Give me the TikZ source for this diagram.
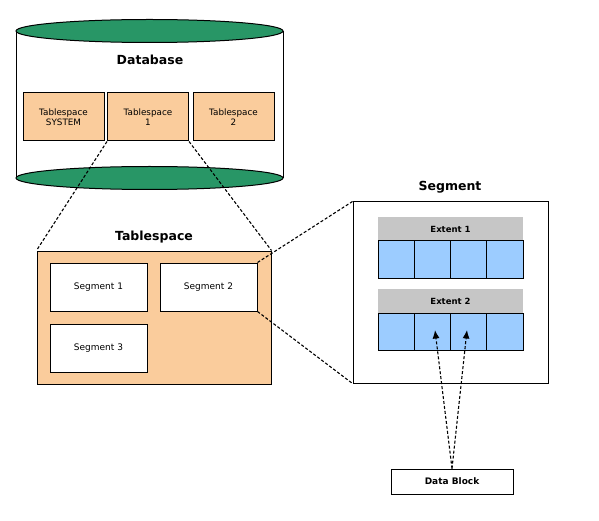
\documentclass[tikz,border=0pt]{standalone}
\usepackage{fontspec}
\setmainfont{DejaVu Sans}
\usetikzlibrary{positioning,arrows.meta}
\definecolor{dbgreen}{RGB}{40,150,102}
\definecolor{tspeach}{RGB}{250,204,156}
\definecolor{extgray}{RGB}{198,198,198}
\definecolor{blkblue}{RGB}{156,204,255}
\tikzset{
  tsbox/.style={draw, fill=tspeach, minimum width=81pt, minimum height=48pt,
    align=center, inner sep=1pt, font=\fontsize{8.8}{10.5}\selectfont},
  segbox/.style={draw, fill=white, minimum width=97pt, minimum height=48pt,
    font=\fontsize{9}{10}\selectfont},
  band/.style={fill=extgray, minimum width=145pt, minimum height=24pt,
    inner sep=0pt, font=\bfseries\fontsize{8.5}{9}\selectfont},
  cell/.style={draw, fill=blkblue, minimum width=36.25pt, minimum height=37pt,
    inner sep=0pt},
  title/.style={font=\bfseries\fontsize{12.5}{14}\selectfont},
  link/.style={dashed, dash pattern=on 3pt off 2pt, line width=1.1pt}
}
\begin{document}
\begin{tikzpicture}[>={Latex[length=8.5pt,width=7pt]}, x=1pt, y=-1pt, line width=1pt]
\useasboundingbox (0,0) rectangle (599,521);
% database cylinder
\fill[white] (16,31) rectangle (283,178);
\draw (16,31)--(16,178) (283,31)--(283,178);
\draw[fill=dbgreen] (149.5,31) ellipse [x radius=133.5pt, y radius=11.5pt];
\draw[fill=dbgreen] (149.5,178) ellipse [x radius=133.5pt, y radius=11.5pt];
\node[title] (db) at (150,60) {Database};
\node[tsbox] (tssys) at (63.5,117) {Tablespace\\SYSTEM};
\node[tsbox] (ts1) at (148,117) {Tablespace\\1};
\node[tsbox] (ts2) at (233.5,117) {Tablespace\\2};
% tablespace
\node[title] (tstitle) at (154,237) {Tablespace};
\node[draw, fill=tspeach, minimum width=234pt, minimum height=133pt] (tsbig) at (154,317.5) {};
\node[segbox] (seg1) at (98.5,287) {Segment 1};
\node[segbox] (seg2) at (208.5,287) {Segment 2};
\node[segbox] (seg3) at (98.5,348) {Segment 3};
\draw[link] (ts1.south west)--(tsbig.north west);
\draw[link] (ts1.south east)--(tsbig.north east);
% segment
\node[title] (segtitle) at (450,187) {Segment};
\node[draw, fill=white, minimum width=195pt, minimum height=181pt] (segbig) at (450.5,292.5) {};
\node[band] (ext1) at (450.5,229) {Extent 1};
\node[band] (ext2) at (450.5,301) {Extent 2};
\foreach \i in {1,...,4}
{
    \node[cell] (ea\i) at ({359.875+36.25*\i},259.5) {};
    \node[cell] (eb\i) at ({359.875+36.25*\i},332) {};
}
\draw[link] (seg2.north east)--(segbig.north west);
\draw[link] (seg2.south east)--(segbig.south west);
% data block
\node[draw, fill=white, minimum width=122pt, minimum height=25pt,
  font=\bfseries\fontsize{9}{10}\selectfont] (blk) at (452,481.5) {Data Block};
\coordinate (tipa) at (435,330);
\coordinate (tipb) at (467,330);
\draw[link, ->] (blk.north)--(tipa);
\draw[link, ->] (blk.north)--(tipb);
\end{tikzpicture}
\end{document}
